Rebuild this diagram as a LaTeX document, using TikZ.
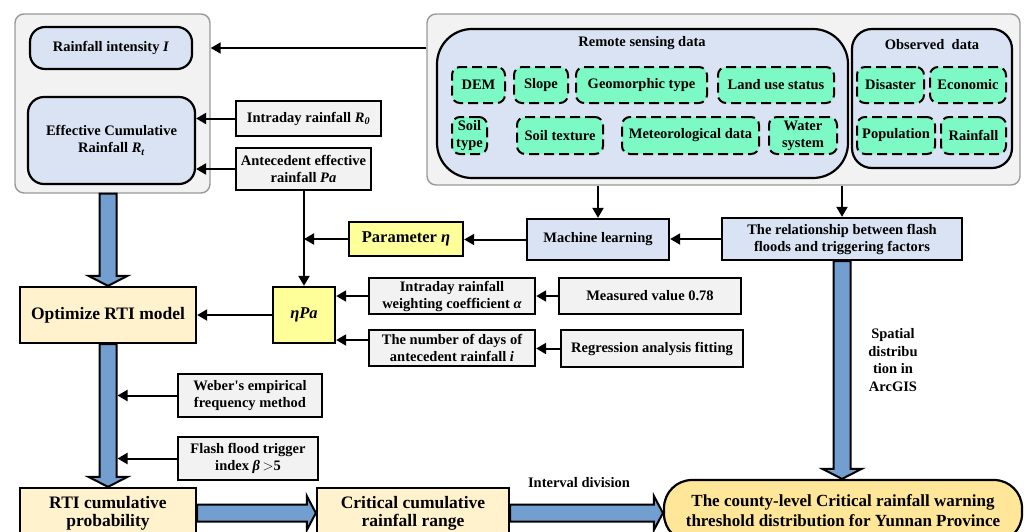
\documentclass[tikz,border=0pt]{standalone}
\usepackage{fontspec}
\setmainfont{Liberation Serif}
\usepackage{xcolor}
\usetikzlibrary{arrows.meta,calc}

\definecolor{panelgray}{HTML}{F2F2F2}
\definecolor{boxgray}{HTML}{F2F2F2}
\definecolor{lavender}{HTML}{DAE3F3}
\definecolor{mint}{HTML}{7DF9C6}
\definecolor{cream}{HTML}{FFF2CC}
\definecolor{lemon}{HTML}{FFFF99}
\definecolor{gold}{HTML}{FFE699}
\definecolor{arrowblue}{HTML}{729FCF}

\newcommand{\fatdown}[2]{%
  \path[fatarrow] let \p1=(#1), \p2=(#2) in
    (\x1-8.5pt,\y1) -- (\x1-8.5pt,\y2+10pt) -- (\x1-19.5pt,\y2+10pt) -- (\x1,\y2)
    -- (\x1+19.5pt,\y2+10pt) -- (\x1+8.5pt,\y2+10pt) -- (\x1+8.5pt,\y1) -- cycle;}
\newcommand{\fatright}[2]{%
  \path[fatarrow] let \p1=(#1), \p2=(#2) in
    (\x1,\y1+8.5pt) -- (\x2-9pt,\y1+8.5pt) -- (\x2-9pt,\y1+17pt) -- (\x2,\y1)
    -- (\x2-9pt,\y1-17pt) -- (\x2-9pt,\y1-8.5pt) -- (\x1,\y1-8.5pt) -- cycle;}

\begin{document}
\begin{tikzpicture}[x=1pt, y=-1pt,
  every node/.style={inner sep=0pt, align=center, font=\fontsize{14.5}{17}\selectfont\bfseries},
  panel/.style={draw=black!40, line width=1.4pt, fill=panelgray, rounded corners=9pt},
  pill/.style={draw, line width=2.2pt, fill=lavender},
  graybox/.style={draw, line width=2.3pt, fill=boxgray},
  bluebox/.style={draw, line width=2.3pt, fill=lavender},
  lemonbox/.style={draw, line width=2.3pt, fill=lemon, font=\fontsize{16.5}{19}\selectfont\bfseries},
  creambox/.style={draw, line width=2.3pt, fill=cream, font=\fontsize{17.5}{18}\selectfont\bfseries},
  databox/.style={draw, line width=2pt, dash pattern=on 10pt off 5pt, fill=mint, rounded corners=8pt},
  link/.style={-{Triangle[length=10pt,width=11pt]}, line width=2pt},
  fatarrow/.style={draw, line width=2pt, fill=arrowblue}]
\useasboundingbox (0,0) rectangle (1027,531);
\clip (0,0) rectangle (1027,531);

\node (lc) at (112.5,103.5) [panel, minimum width=195, minimum height=179] {};
\node (ri) at (111,48) [pill, rounded corners=15pt, minimum width=162, minimum height=42] {Rainfall intensity \textit{I}};
\node (ecr) at (111.5,140.5) [pill, rounded corners=16pt, minimum width=167, minimum height=87] {Effective Cumulative\\Rainfall \textit{R\textsubscript{t}}};

\node (rp) at (723.5,99.5) [panel, minimum width=593, minimum height=171] {};
\node (rs) at (642.5,103.5) [pill, rounded corners=35pt, minimum width=411, minimum height=149] {};
\node (rst) at (642,43) [] {Remote sensing data};
\node (od) at (932,98.5) [pill, rounded corners=20pt, minimum width=160, minimum height=139] {};
\node (odt) at (932,45) [] {Observed\ \ data};

\node (dem) at (478.5,85) [databox, minimum width=53, minimum height=36] {DEM};
\node (slope) at (541,85) [databox, minimum width=54, minimum height=36] {Slope};
\node (geo) at (641.5,85) [databox, minimum width=131, minimum height=36] {Geomorphic type};
\node (land) at (776,85) [databox, minimum width=116, minimum height=36] {Land use status};
\node (soil) at (469.5,135.5) [databox, minimum width=35, minimum height=37] {Soil\\type};
\node (tex) at (560,135.5) [databox, minimum width=86, minimum height=37] {Soil texture};
\node (met) at (690.5,135.5) [databox, minimum width=137, minimum height=37] {Meteorological data};
\node (wat) at (803,135.5) [databox, minimum width=68, minimum height=37] {Water\\system};
\node (dis) at (890.5,85) [databox, minimum width=67, minimum height=36] {Disaster};
\node (eco) at (968,85) [databox, minimum width=76, minimum height=36] {Economic};
\node (pop) at (896,135.5) [databox, minimum width=78, minimum height=37] {Population};
\node (rain) at (973.5,135.5) [databox, minimum width=65, minimum height=37] {Rainfall};

\node (r0) at (308.5,118.5) [graybox, minimum width=145, minimum height=35] {Intraday rainfall \textit{R\textsubscript{0}}};
\node (pa) at (303.5,169) [graybox, minimum width=135, minimum height=42] {Antecedent effective\\rainfall \textit{Pa}};
\node (par) at (406,239) [lemonbox, minimum width=114, minimum height=34] {Parameter \textit{η}};
\node (ml) at (598,239.5) [bluebox, minimum width=142, minimum height=41] {Machine learning};
\node (rel) at (842,239) [bluebox, minimum width=240, minimum height=42] {The relationship between flash\\floods and triggering factors};

\node (opt) at (108,315) [creambox, minimum width=176, minimum height=56] {Optimize RTI model};
\node (epa) at (304,315) [lemonbox, minimum width=62, minimum height=56] {\textit{ηPa}};
\node (wc) at (452,296) [graybox, minimum width=166, minimum height=36] {Intraday rainfall\\weighting coefficient \textit{α}};
\node (nd) at (452,348) [graybox, minimum width=166, minimum height=36] {The number of days of\\antecedent rainfall \textit{i}};
\node (mv) at (650,296) [graybox, minimum width=182, minimum height=36] {Measured value 0.78};
\node (ra) at (652,348.5) [graybox, minimum width=182, minimum height=37] {Regression analysis fitting};

\node (wb) at (250,395.5) [graybox, minimum width=144, minimum height=43] {Weber\textquotesingle s empirical\\frequency method};
\node (ff) at (248,458.5) [graybox, minimum width=140, minimum height=43] {Flash flood trigger\\index \textit{β}\,$>$5};

\node (rti) at (108,513) [creambox, minimum width=176, minimum height=50] {RTI cumulative\\probability};
\node (crit) at (413,513) [creambox, minimum width=192, minimum height=50] {Critical cumulative\\rainfall range};
\node (county) at (843,511) [draw, line width=2.2pt, fill=gold, rounded corners=28pt, minimum width=358, minimum height=62, font=\fontsize{17}{20}\selectfont\bfseries] {The county-level Critical rainfall warning\\threshold distribution for Yunnan Province};

\node (arc) at (893,360) [font=\fontsize{14.5}{17.5}\selectfont\bfseries] {Spatial\\distribu\\tion in\\ArcGIS};
\node (intv) at (579,483) [] {Interval division};

\coordinate (shaft) at ($(opt.south)+(9.5,0)$);

\fatdown{opt.north |- lc.south}{opt.north}
\fatdown{opt.south}{rti.north}
\fatdown{rel.south}{county.north}
\fatright{rti.east}{crit.west}
\fatright{crit.east}{county.west}

\draw [link] (ri -| rp.west) -> (ri -| lc.east);
\draw [link] (r0.west) -> (r0.west -| ecr.east);
\draw [link] (pa.west) -> (pa.west -| ecr.east);
\draw [link] (pa.south -| epa.north) -> (epa.north);
\draw [link] (par.west) -> (par.west -| epa.north);
\draw [link] (ml.west) -> (ml.west -| par.east);
\draw [link] (rel.west) -> (rel.west -| ml.east);
\draw [link] (rp.south -| ml.north) -> (ml.north);
\draw [link] (rp.south -| rel.north) -> (rel.north);
\draw [link] (epa.west) -> (epa.west -| opt.east);
\draw [link] (wc.west) -> (wc.west -| epa.east);
\draw [link] ([yshift=8pt]nd.west) -> ([yshift=8pt]nd.west -| epa.east);
\draw [link] (mv.west) -> (mv.west -| wc.east);
\draw [link] (ra.west) -> (ra.west -| nd.east);
\draw [link] (wb.west) -> (wb.west -| shaft);
\draw [link] (ff.west) -> (ff.west -| shaft);
\end{tikzpicture}
\end{document}
